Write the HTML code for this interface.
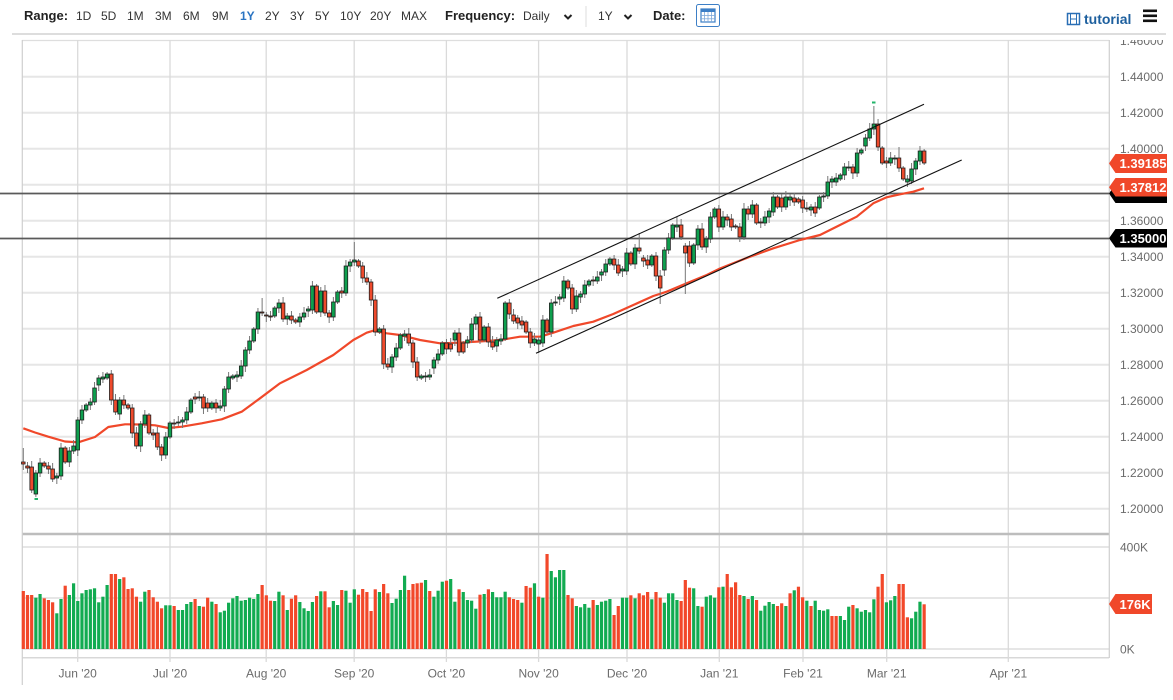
<!DOCTYPE html>
<html>
<head>
<meta charset="utf-8">
<style>
  html,body{margin:0;padding:0;background:#fff;}
  body{width:1173px;height:695px;overflow:hidden;font-family:"Liberation Sans",Arial,sans-serif;}
  svg text{font-family:"Liberation Sans",Arial,sans-serif;}
  .tb{font-size:12px;fill:#333;}
  .tbb{font-size:13px;font-weight:bold;fill:#222;}
  .ax{font-size:12px;fill:#6b6b6b;}
  .tag{font-size:13px;font-weight:bold;fill:#fff;}
</style>
</head>
<body>
<svg id="chart" width="1173" height="695" viewBox="0 0 1173 695" xmlns="http://www.w3.org/2000/svg">
  <defs>
    <clipPath id="plotclip"><rect x="0" y="40" width="1173" height="660"/></clipPath>
  </defs>
  <rect x="0" y="0" width="1173" height="695" fill="#fff"/>

  <!-- Toolbar -->
  <text x="24" y="20" class="tbb">Range:</text>
  <text x="76" y="20" class="tb">1D</text>
  <text x="101" y="20" class="tb">5D</text>
  <text x="127" y="20" class="tb">1M</text>
  <text x="155" y="20" class="tb">3M</text>
  <text x="183" y="20" class="tb">6M</text>
  <text x="212" y="20" class="tb">9M</text>
  <text x="240" y="20" class="tb" style="fill:#2a74c2;font-weight:bold">1Y</text>
  <text x="265" y="20" class="tb">2Y</text>
  <text x="290" y="20" class="tb">3Y</text>
  <text x="315" y="20" class="tb">5Y</text>
  <text x="340" y="20" class="tb">10Y</text>
  <text x="370" y="20" class="tb">20Y</text>
  <text x="401" y="20" class="tb">MAX</text>
  <text x="445" y="20" class="tbb">Frequency:</text>
  <text x="523" y="20" class="tb">Daily</text>
  <polyline points="564.5,15 568,18.5 571.5,15" fill="none" stroke="#222" stroke-width="2"/>
  <line x1="586" y1="6" x2="586" y2="27" stroke="#dcdcdc" stroke-width="1"/>
  <text x="598" y="20" class="tb">1Y</text>
  <polyline points="624.5,15 628,18.5 631.5,15" fill="none" stroke="#222" stroke-width="2"/>
  <text x="653" y="20" class="tbb">Date:</text>
  <rect x="696.5" y="4.5" width="23" height="22" rx="2" fill="#fff" stroke="#3d7fc6" stroke-width="1"/>
  <rect x="701" y="9" width="14" height="13" fill="none" stroke="#3d7fc6" stroke-width="1.2"/>
  <rect x="701" y="9" width="14" height="3" fill="#3d7fc6"/>
  <line x1="704.5" y1="12" x2="704.5" y2="22" stroke="#7ea9da" stroke-width="0.8"/>
  <line x1="708" y1="12" x2="708" y2="22" stroke="#7ea9da" stroke-width="0.8"/>
  <line x1="711.5" y1="12" x2="711.5" y2="22" stroke="#7ea9da" stroke-width="0.8"/>
  <line x1="701" y1="15.5" x2="715" y2="15.5" stroke="#7ea9da" stroke-width="0.8"/>
  <line x1="701" y1="18.8" x2="715" y2="18.8" stroke="#7ea9da" stroke-width="0.8"/>

  <!-- tutorial -->
  <rect x="1067.5" y="13.5" width="12" height="11" fill="none" stroke="#2a6fb5" stroke-width="1.5"/>
  <line x1="1070.5" y1="13.5" x2="1070.5" y2="24.5" stroke="#2a6fb5" stroke-width="1"/>
  <line x1="1076.5" y1="13.5" x2="1076.5" y2="24.5" stroke="#2a6fb5" stroke-width="1"/>
  <line x1="1070.5" y1="19" x2="1076.5" y2="19" stroke="#2a6fb5" stroke-width="1"/>
  <text x="1084" y="24" style="font-size:14px;font-weight:bold;fill:#1d5f9e">tutorial</text>
  <rect x="1143" y="9.5" width="14" height="2.6" fill="#111"/>
  <rect x="1143" y="14.5" width="14" height="2.6" fill="#111"/>
  <rect x="1143" y="19.5" width="14" height="2.6" fill="#111"/>

  <line x1="12" y1="34" x2="1166" y2="34" stroke="#d2d2d2" stroke-width="1.5"/>

  <!-- grid -->
  <g stroke="#e6e6e6" stroke-width="2">
    <line x1="22" y1="76.7" x2="1109" y2="76.7"/>
    <line x1="22" y1="112.7" x2="1109" y2="112.7"/>
    <line x1="22" y1="148.7" x2="1109" y2="148.7"/>
    <line x1="22" y1="184.7" x2="1109" y2="184.7"/>
    <line x1="22" y1="220.7" x2="1109" y2="220.7"/>
    <line x1="22" y1="256.7" x2="1109" y2="256.7"/>
    <line x1="22" y1="292.7" x2="1109" y2="292.7"/>
    <line x1="22" y1="328.7" x2="1109" y2="328.7"/>
    <line x1="22" y1="364.7" x2="1109" y2="364.7"/>
    <line x1="22" y1="400.7" x2="1109" y2="400.7"/>
    <line x1="22" y1="436.7" x2="1109" y2="436.7"/>
    <line x1="22" y1="472.7" x2="1109" y2="472.7"/>
    <line x1="22" y1="508.7" x2="1109" y2="508.7"/>
    <line x1="22" y1="547" x2="1109" y2="547"/>
    <line x1="22" y1="598" x2="1109" y2="598"/>
    <line x1="22" y1="649" x2="1109" y2="649"/>
  </g>
  <line x1="22" y1="40.5" x2="1109" y2="40.5" stroke="#dedede" stroke-width="1.2"/>
  <line x1="22" y1="657.7" x2="1109" y2="657.7" stroke="#d8d8d8" stroke-width="1.5"/>
  <g stroke="#dadada" stroke-width="1.3">
    <line x1="77.7" y1="40" x2="77.7" y2="662"/>
    <line x1="170" y1="40" x2="170" y2="662"/>
    <line x1="266.2" y1="40" x2="266.2" y2="662"/>
    <line x1="354.2" y1="40" x2="354.2" y2="662"/>
    <line x1="446.4" y1="40" x2="446.4" y2="662"/>
    <line x1="538.6" y1="40" x2="538.6" y2="662"/>
    <line x1="627" y1="40" x2="627" y2="662"/>
    <line x1="719.3" y1="40" x2="719.3" y2="662"/>
    <line x1="803" y1="40" x2="803" y2="662"/>
    <line x1="886.7" y1="40" x2="886.7" y2="662"/>
    <line x1="1008.3" y1="40" x2="1008.3" y2="662"/>
  </g>
  <line x1="22" y1="534" x2="1109" y2="534" stroke="#bdbdbd" stroke-width="2.5"/>
  <line x1="22.3" y1="40" x2="22.3" y2="685" stroke="#cfcfcf" stroke-width="1.2"/>
  <line x1="1109.3" y1="40" x2="1109.3" y2="658" stroke="#cfcfcf" stroke-width="1.2"/>

  <!-- horizontal support lines -->
  <line x1="0" y1="193.5" x2="1109" y2="193.5" stroke="#5a5a5a" stroke-width="1.7"/>
  <line x1="0" y1="238.5" x2="1109" y2="238.5" stroke="#5a5a5a" stroke-width="1.7"/>

  <!-- moving average -->
  <polyline fill="none" stroke="#f0482a" stroke-width="2.2" stroke-linejoin="round"
    points="23.3,428.3 35,432.5 48.3,436.7 65,441.5 78.3,442.3 95,437 108.3,427 125,424.3 141.7,424.5 155,425.3 168.3,428 181.7,426.7 201.7,423.3 221.7,419.3 241.7,411.7 260,398.3 280,383.3 306.7,370 333.3,355 353.3,340 366.7,332.7 373.3,330.7 386.7,333.3 400,335 420,340 440,343.3 460,342.7 486.7,341 500,340 520,336.7 540,336.7 553.3,332.7 573.3,326 593.3,321.7 613.3,314 633.3,305 653.3,296 666.7,291.7 686.7,283.3 706.7,275 720,268.5 730,264.5 750,256.7 773.3,248.3 800,240 820,235 840,225 856.7,216.7 873.3,203.3 886.7,197.3 900,194.3 913.3,191.7 924,188.3"/>

  <g id="candles"></g>

  <!-- channel lines -->
  <line x1="497.3" y1="298.3" x2="924" y2="104.3" stroke="#111" stroke-width="1.1"/>
  <line x1="536" y1="353.3" x2="961.7" y2="160" stroke="#111" stroke-width="1.1"/>

  <!-- high/low markers -->
  <rect x="872" y="101.5" width="3.5" height="2" fill="#22b46a"/>
  <rect x="34.5" y="498" width="3.5" height="2" fill="#22b46a"/>

  <g id="volume"></g>

  <!-- right axis labels -->
  <g clip-path="url(#plotclip)">
    <text x="1120" y="45" class="ax">1.46000</text>
  </g>
  <text x="1120" y="81" class="ax">1.44000</text>
  <text x="1120" y="117" class="ax">1.42000</text>
  <text x="1120" y="153" class="ax">1.40000</text>
  <text x="1120" y="189" class="ax">1.38000</text>
  <text x="1120" y="225" class="ax">1.36000</text>
  <text x="1120" y="261" class="ax">1.34000</text>
  <text x="1120" y="297" class="ax">1.32000</text>
  <text x="1120" y="333" class="ax">1.30000</text>
  <text x="1120" y="369" class="ax">1.28000</text>
  <text x="1120" y="405" class="ax">1.26000</text>
  <text x="1120" y="441" class="ax">1.24000</text>
  <text x="1120" y="477" class="ax">1.22000</text>
  <text x="1120" y="513" class="ax">1.20000</text>
  <text x="1120" y="551.5" class="ax">400K</text>
  <text x="1120" y="602.5" class="ax">200K</text>
  <text x="1120" y="653.5" class="ax">0K</text>

  <!-- tags -->
  <path d="M1109,163.4 L1115.5,154 L1167,154 L1167,173 L1115.5,173 Z" fill="#f0482a"/>
  <text x="1119.5" y="168.2" class="tag">1.39185</text>

  <path d="M1109,193.5 L1115.5,184 L1167,184 L1167,203 L1115.5,203 Z" fill="#000"/>
  <path d="M1109,187.3 L1115.5,178 L1167,178 L1167,196.5 L1115.5,196.5 Z" fill="#f0482a"/>
  <text x="1119.5" y="192" class="tag">1.37812</text>

  <path d="M1109,238.3 L1115.5,229 L1167,229 L1167,247.5 L1115.5,247.5 Z" fill="#000"/>
  <text x="1119.5" y="243" class="tag">1.35000</text>

  <path d="M1109,604 L1115.5,594 L1152,594 L1152,614 L1115.5,614 Z" fill="#f0482a"/>
  <text x="1119.5" y="609" class="tag">176K</text>

  <!-- x axis labels -->
  <text x="77.7" y="677.5" class="ax" text-anchor="middle">Jun '20</text>
  <text x="170" y="677.5" class="ax" text-anchor="middle">Jul '20</text>
  <text x="266.2" y="677.5" class="ax" text-anchor="middle">Aug '20</text>
  <text x="354.2" y="677.5" class="ax" text-anchor="middle">Sep '20</text>
  <text x="446.4" y="677.5" class="ax" text-anchor="middle">Oct '20</text>
  <text x="538.6" y="677.5" class="ax" text-anchor="middle">Nov '20</text>
  <text x="627" y="677.5" class="ax" text-anchor="middle">Dec '20</text>
  <text x="719.3" y="677.5" class="ax" text-anchor="middle">Jan '21</text>
  <text x="803" y="677.5" class="ax" text-anchor="middle">Feb '21</text>
  <text x="886.7" y="677.5" class="ax" text-anchor="middle">Mar '21</text>
  <text x="1008.3" y="677.5" class="ax" text-anchor="middle">Apr '21</text>
</svg>

<script>
(function(){
  var C=[
  [462,464,0],[466,468,0],[467,490,0],[473,494,1],[463,473,1],[463,466,0],[466,469,0],[469,479,0],[476,478,1],[448,476,1],
  [448,462,0],[451,462,1],[446,451,1],[420,450,1],[410,420,1],[405,410,1],[402,405,1],[388,402,1],[378,385,1],[377,379,1],
  [374,378,1],[374,400,0],[400,412,0],[400,414,1],[400,405,0],[405,408,0],[408,433,0],[433,446,0],[424,446,1],[415,424,1],
  [415,433,0],[433,435,0],[433,447,0],[447,455,0],[437,455,1],[423,437,1],[423,424,0],[422,423,1],[420,422,1],[412,420,1],
  [400,412,1],[397,399,0],[397,398,1],[397,408,0],[403,408,0],[403,408,1],[403,408,0],[406,408,1],[389,406,1],[377,389,1],
  [376,378,1],[375,377,1],[366,376,1],[350,366,1],[341,350,1],[329,341,1],[312,329,1],[312,313,0],[315,316,0],[316,317,0],
  [308,316,1],[303,308,1],[303,319,0],[316,319,1],[316,320,0],[320,322,0],[317,322,1],[313,317,1],[309,311,1],[286,310,1],
  [286,312,0],[291,312,1],[291,313,0],[313,317,0],[302,317,1],[292,302,1],[291,293,0],[266,293,1],[262,266,1],[260,262,1],
  [261,266,0],[266,278,0],[278,282,0],[282,300,0],[300,332,0],[329,332,1],[329,364,0],[364,367,0],[357,367,1],[348,357,1],
  [335,348,1],[334,336,1],[334,343,0],[343,362,0],[362,377,0],[376,378,1],[376,377,1],[375,377,1],[360,368,1],[354,360,1],
  [343,354,1],[343,349,0],[344,349,0],[333,340,1],[333,352,0],[343,352,0],[340,343,1],[324,340,1],[317,324,1],[317,340,0],
  [327,340,1],[327,342,0],[342,347,0],[340,346,1],[339,341,1],[303,339,1],[303,314,0],[315,321,0],[318,323,0],[321,325,0],
  [322,332,0],[332,343,0],[339,343,1],[340,344,1],[320,343,1],[320,332,0],[303,332,1],[302,303,1],[297,299,1],[281,298,1],
  [281,288,0],[288,309,0],[296,309,1],[294,297,1],[285,294,1],[281,285,1],[280,281,0],[277,281,1],[272,275,1],[264,272,1],
  [259,264,1],[259,265,0],[265,273,0],[269,271,1],[253,271,1],[253,264,0],[248,264,1],[248,251,0],[258,261,0],[260,265,0],
  [256,265,1],[256,276,0],[276,288,0],[250,270,1],[238,250,1],[225,238,1],[225,227,1],[225,237,0],[246,253,0],[246,263,0],
  [245,263,1],[229,245,1],[229,247,0],[239,247,1],[217,239,1],[209,217,1],[209,227,0],[217,227,1],[217,220,0],[219,227,0],
  [226,227,0],[227,237,0],[209,237,1],[209,214,0],[205,214,1],[205,223,0],[222,223,0],[217,223,1],[211,217,1],[197,212,1],
  [197,207,0],[198,207,0],[197,207,1],[197,200,1],[198,202,0],[199,202,0],[200,208,0],[208,209,0],[207,210,1],[207,213,0],
  [197,208,1],[196,197,1],[182,196,1],[179,182,1],[178,182,1],[175,179,1],[167,175,1],[167,168,1],[167,173,0],[153,173,1],
  [150,153,1],[138,146,1],[129,138,1],[124,129,1],[124,147,0],[148,163,0],[161,163,0],[158,163,1],[158,159,1],[158,168,0],
  [168,179,0],[179,182,1],[169,181,1],[161,169,1],[151,161,1],[151,163,0]
  ];
  var OV={0:[448,470],3:[null,497],57:[298,null],79:[242,null],123:[null,353],147:[233,null],152:[null,304],156:[217,null],158:[null,294],203:[106,null],209:[147,null]};
  var s='';
  for(var i=0;i<C.length;i++){
    var x=23.3+i*4.19, t=C[i][0], b=C[i][1];
    var hi=t-(2+(i*7)%5), lo=b+(2+(i*3)%5);
    if(OV[i]){ if(OV[i][0]!==null) hi=OV[i][0]; if(OV[i][1]!==null) lo=OV[i][1]; }
    s+='<line x1="'+x.toFixed(2)+'" y1="'+hi+'" x2="'+x.toFixed(2)+'" y2="'+lo+'" stroke="#777" stroke-width="1"/>';
    var h=Math.max(b-t,1);
    s+='<rect x="'+(x-1.8).toFixed(2)+'" y="'+t+'" width="3.6" height="'+h+'" fill="'+(C[i][2]?'#0e9f4e':'#ee4a2c')+'" stroke="#1e1e1e" stroke-width="0.8"/>';
  }
  document.getElementById('candles').innerHTML=s;

  var V1=[591,595,595,597.7,594,598.3,600,602.3,613.3,599,585.7,595,583.3,601,593.3,590,589.3,588.3,602.3,596.7,585,574,574,579,577.3,589,588.3,596.7,601.7,591.7,590,597.3,601.7,608.3,605.3,605.3,606,610,610,604,602,599,606,606.7,597.7,601.7,604,612.3,610.7,602.7,598.3,596,600.7,600,597.7,599,594,585,595.3,600.7,601,591.7,595.3,610,598.7,595.3,602,608.3,611,602,596,591.3,591.3,607.3,601,605,590,590.7,602.7,589.3,594.7,589,592,611,589.3,592,584,593.3,603,598.7,590];
  var V2=[137,180,162,160,158,150,183,200,182,155,
  152,147,215,178,186,210,212,236,194,192,
  178,186,202,202,185,202,207,210,218,168,
  173,160,200,203,72,123,142,120,120,195,
  205,228,232,222,233,210,225,215,212,207,
  255,228,203,203,196,205,190,196,186,208,
  186,203,218,190,190,210,213,150,173,175,
  228,230,200,196,203,172,170,132,172,157,
  195,198,207,198,210,242,227,216,222,228,
  220,228,190,181,170,202,212,228,212,240,
  242,238,258,258,258,270,230,225,235,245,
  240,247,208,170,132,217,211,198,162,162,
  262,265,245,215,223];
  var V=V1.slice();
  for(var k=0;k<V2.length;k++) V.push(530+V2[k]/3);
  var VC="rrrggrrrgg"+"rggggggggg"+"grrgrrrrgg"+"rrrrggrggg"+"grgrrgrggg"+"gggggggrrr"+"ggrgrrgggg"+"rgrrggrggg"+"rrrrrgrrgg"+"g"+
         "grrrrgrgg"+"grggrggggr"+"grggggrrrg"+"rrgrgrgggg"+"rrggggrggg"+"grrggrgrrr"+"grrggggrrr"+"ggrgggrgrr"+"rrgrgrgggg"+"rrgrgrrgrg"+"gggrrgggrg"+"ggggrrgggr"+"rrgggr";
  var v='';
  for(var j=0;j<V.length;j++){
    var xx=23.3+j*4.19, top=V[j];
    var col=VC.charAt(j)==='g'?'#12ab51':'#f2482a';
    v+='<rect x="'+(xx-1.6).toFixed(2)+'" y="'+top.toFixed(1)+'" width="3.2" height="'+(649-top).toFixed(1)+'" fill="'+col+'"/>';
  }
  document.getElementById('volume').innerHTML=v;
})();
</script>
</body>
</html>
